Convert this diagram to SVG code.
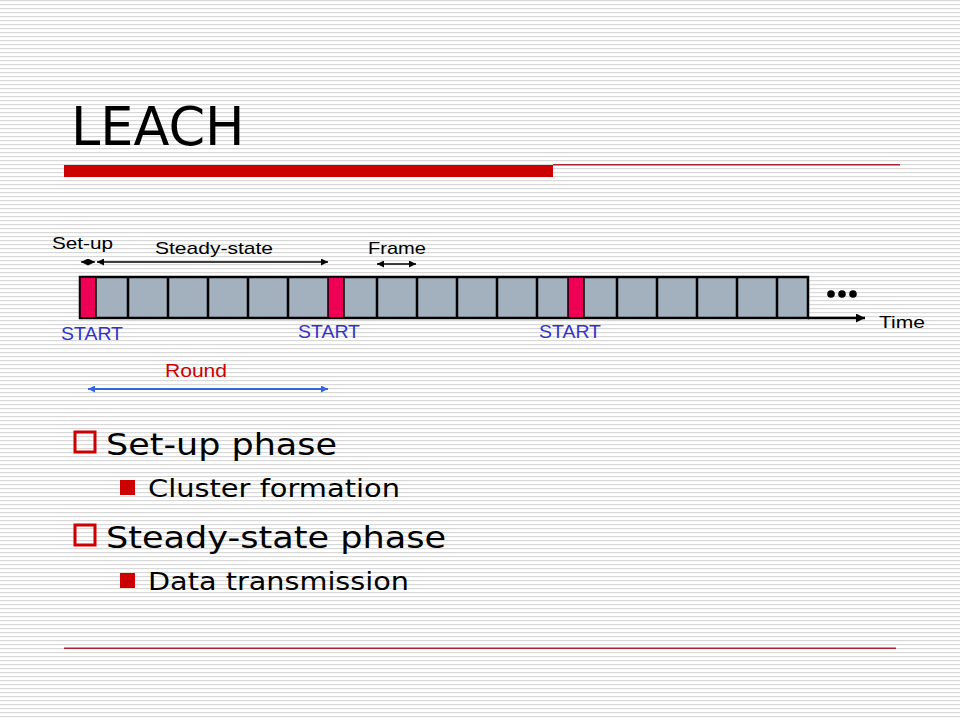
<svg xmlns="http://www.w3.org/2000/svg" width="960" height="720" viewBox="0 0 960 720">
<defs>
<pattern id="stripes" width="8" height="4" patternUnits="userSpaceOnUse">
<rect width="8" height="4" fill="#ffffff"/>
<rect y="0" width="8" height="1.2" fill="#d8d8d8"/>
</pattern>
<marker id="ah" viewBox="0 0 10 10" refX="10" refY="5" markerWidth="10" markerHeight="7" markerUnits="userSpaceOnUse" orient="auto-start-reverse">
<path d="M0,0 L10,5 L0,10 z" fill="#000"/>
</marker>
<marker id="ahb" viewBox="0 0 10 10" refX="10" refY="5" markerWidth="10" markerHeight="7" markerUnits="userSpaceOnUse" orient="auto-start-reverse">
<path d="M0,0 L10,5 L0,10 z" fill="#3366dd"/>
</marker>
<marker id="aht" viewBox="0 0 10 10" refX="10" refY="5" markerWidth="12" markerHeight="9" markerUnits="userSpaceOnUse" orient="auto">
<path d="M0,0 L10,5 L0,10 z" fill="#000"/>
</marker>
</defs>
<style>
.lbl{font-family:"Liberation Sans",Arial,sans-serif;font-size:17px;fill:#000}
.start{font-family:"Liberation Sans",Arial,sans-serif;font-size:19px;fill:#3333cc}
.cell{fill:#a3b0bd;stroke:#000;stroke-width:2.5}
.red{fill:#ee0055;stroke:#000;stroke-width:1.5}
.v{font-family:"DejaVu Sans",Verdana,sans-serif;fill:#000}
.arr{stroke:#000;stroke-width:1.3;fill:none}
</style>
<rect width="960" height="720" fill="url(#stripes)"/>

<g id="title">
<text class="v" x="71" y="145" font-size="52.5">LEACH</text>
<rect x="64" y="165" width="489" height="12" fill="#cc0000"/>
<rect x="553" y="164" width="347" height="1.5" fill="#aa2233"/>
</g>

<g id="bar">
<rect x="80" y="277" width="728" height="41" class="cell"/>
<rect x="80" y="277" width="16" height="41" class="red"/>
<rect x="328" y="277" width="16" height="41" class="red"/>
<rect x="568" y="277" width="16" height="41" class="red"/>
<g stroke="#000" stroke-width="2.5">
<line x1="128" y1="277" x2="128" y2="318"/>
<line x1="168" y1="277" x2="168" y2="318"/>
<line x1="208" y1="277" x2="208" y2="318"/>
<line x1="248" y1="277" x2="248" y2="318"/>
<line x1="288" y1="277" x2="288" y2="318"/>
<line x1="377" y1="277" x2="377" y2="318"/>
<line x1="417" y1="277" x2="417" y2="318"/>
<line x1="457" y1="277" x2="457" y2="318"/>
<line x1="497" y1="277" x2="497" y2="318"/>
<line x1="537" y1="277" x2="537" y2="318"/>
<line x1="617" y1="277" x2="617" y2="318"/>
<line x1="657" y1="277" x2="657" y2="318"/>
<line x1="697" y1="277" x2="697" y2="318"/>
<line x1="737" y1="277" x2="737" y2="318"/>
<line x1="777" y1="277" x2="777" y2="318"/>
</g>
<circle cx="831" cy="294" r="3.8" fill="#000"/>
<circle cx="842" cy="294" r="3.8" fill="#000"/>
<circle cx="853" cy="294" r="3.8" fill="#000"/>
</g>

<g id="connectors">
<line x1="808" y1="318" x2="865" y2="318" stroke="#000" stroke-width="2.5" marker-end="url(#aht)"/>
<line x1="81" y1="262" x2="95" y2="262" class="arr" marker-start="url(#ah)" marker-end="url(#ah)"/>
<line x1="97" y1="262" x2="328" y2="262" class="arr" marker-start="url(#ah)" marker-end="url(#ah)"/>
<line x1="377" y1="264" x2="416" y2="264" class="arr" marker-start="url(#ah)" marker-end="url(#ah)"/>
<line x1="88" y1="389" x2="328" y2="389" stroke="#3366dd" stroke-width="2" marker-start="url(#ahb)" marker-end="url(#ahb)"/>
</g>

<g id="labels">
<text class="lbl" x="52" y="249" textLength="61" lengthAdjust="spacingAndGlyphs">Set-up</text>
<text class="lbl" x="155" y="254" textLength="118" lengthAdjust="spacingAndGlyphs">Steady-state</text>
<text class="lbl" x="368" y="254" textLength="58" lengthAdjust="spacingAndGlyphs">Frame</text>
<text class="lbl" x="879" y="328" textLength="46" lengthAdjust="spacingAndGlyphs">Time</text>
<text class="start" x="61" y="340" textLength="62" lengthAdjust="spacingAndGlyphs">START</text>
<text class="start" x="298" y="338" textLength="62" lengthAdjust="spacingAndGlyphs">START</text>
<text class="start" x="539" y="338" textLength="62" lengthAdjust="spacingAndGlyphs">START</text>
<text x="165" y="377" font-family="Liberation Sans,Arial,sans-serif" font-size="18" fill="#cc0000" textLength="62" lengthAdjust="spacingAndGlyphs">Round</text>
</g>

<g id="bullets">
<rect x="75" y="432" width="20" height="20" fill="none" stroke="#cc0000" stroke-width="3"/>
<text class="v" x="106" y="455" font-size="31" textLength="231" lengthAdjust="spacingAndGlyphs">Set-up phase</text>
<rect x="120" y="480" width="15" height="15" fill="#cc0000"/>
<text class="v" x="148" y="497" font-size="25" textLength="252" lengthAdjust="spacingAndGlyphs">Cluster formation</text>
<rect x="75" y="525" width="20" height="20" fill="none" stroke="#cc0000" stroke-width="3"/>
<text class="v" x="106" y="548" font-size="31" textLength="340" lengthAdjust="spacingAndGlyphs">Steady-state phase</text>
<rect x="120" y="573" width="15" height="15" fill="#cc0000"/>
<text class="v" x="148" y="590" font-size="25" textLength="261" lengthAdjust="spacingAndGlyphs">Data transmission</text>
</g>

<g id="footer">
<rect x="64" y="647.5" width="832" height="1.5" fill="#aa2233"/>
</g>
</svg>
